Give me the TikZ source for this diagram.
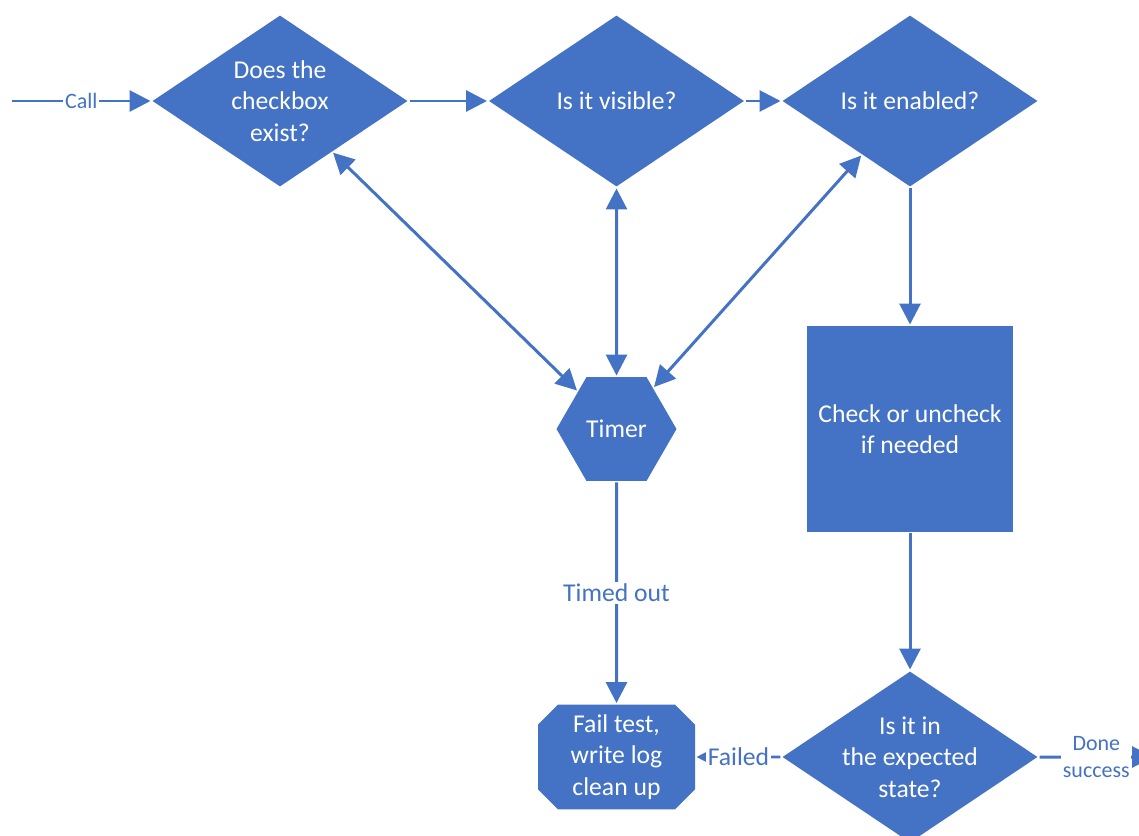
\documentclass[tikz,border=0pt]{standalone}
\usepackage{fontspec}
\setmainfont{Carlito}
\usetikzlibrary{arrows.meta,shapes,backgrounds}

\definecolor{boxblue}{HTML}{4472C4}
\newcommand{\chartfont}{\fontsize{14.6}{17.9}\selectfont}
\newcommand{\edgefont}{\fontsize{12.5}{15.3}\selectfont}

\begin{document}
\begin{tikzpicture}[->,>={Triangle[length=0.42cm,width=0.42cm]},line width=1.7pt,color=boxblue]
        \tikzstyle{decision}=[diamond, fill=boxblue, text=white, aspect=1.49, minimum width=5.12cm, minimum height=3.44cm, inner sep=0pt, align=center, font=\chartfont]
        \tikzstyle{timerbox}=[regular polygon, regular polygon sides=6, fill=boxblue, text=white, minimum size=2.4cm, inner sep=0pt, font=\chartfont]
        \tikzstyle{process}=[rectangle, fill=boxblue, text=white, minimum width=4.12cm, minimum height=4.12cm, align=center, font=\chartfont]
        \tikzstyle{failbox}=[chamfered rectangle, chamfered rectangle xsep=0.2cm, chamfered rectangle ysep=0.2cm, fill=boxblue, text=white, minimum width=3.14cm, minimum height=2.08cm, inner xsep=0pt, inner ysep=0pt, align=center, font=\chartfont]
        \tikzstyle{lbl}=[fill=white, inner sep=1pt, text=boxblue, font=\chartfont]
        \tikzstyle{small lbl}=[lbl, align=center, font=\edgefont]

        \useasboundingbox (0,0) rectangle (22.78,-16.72);

        \node[decision] (exists)  at (5.6,-2.02)                           {Does the\\checkbox\\exist?};
        \node[decision] (visible) [right of=exists, node distance=6.73cm]  {Is it visible?};
        \node[decision] (enabled) [right of=visible, node distance=5.87cm] {Is it enabled?};
        \node[timerbox] (timer)   [below of=visible, node distance=6.56cm] {Timer};
        \node[process]  (toggle)  [below of=enabled, node distance=6.56cm] {Check or uncheck\\if needed};
        \node[decision] (state)   [below of=toggle, node distance=6.56cm]  {Is it in\\the expected\\state?};
        \node[failbox]  (fail)    [left of=state, node distance=5.87cm]    {Fail test,\\write log\\clean up};
        \coordinate (call) at (0.24,-2.02);
        \coordinate (done) at (23.06,-15.14);

        \path (call)    edge node[small lbl] {Call} (exists)
              (exists)  edge (visible)
              (visible) edge (enabled)
              (enabled) edge (toggle)
              (toggle)  edge (state)
              (timer)   edge[<->] (exists)
              (timer)   edge[<->] (visible)
              (timer)   edge[<->] (enabled)
              (timer)   edge node[lbl] {Timed out} (fail)
              (state)   edge node[lbl] {Failed} (fail)
              (state)   edge node[small lbl] {Done\\success} (done);
      \end{tikzpicture}
\end{document}
